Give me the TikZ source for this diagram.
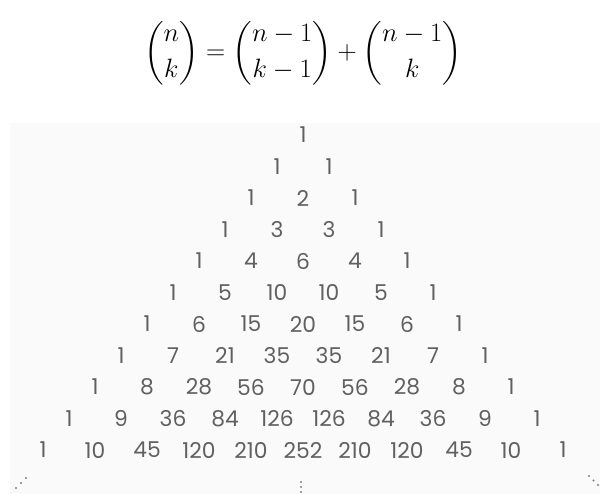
\documentclass[tikz,border=0pt]{standalone}
\usepackage{amsmath}
\usepackage{fontspec}
\usepackage{graphicx}
\newfontfamily\numfont{Poppins}
\usetikzlibrary{positioning,calc,backgrounds}
\definecolor{numgray}{HTML}{606060}
\definecolor{panelgray}{HTML}{FAFAFA}

\begin{document}
\begin{tikzpicture}[
    x=0.025cm, y=-0.025cm,
    entry/.style={font=\numfont\fontsize{15.5}{18}\selectfont, text=numgray, inner sep=0pt},
    formula/.style={font=\fontsize{20}{24}\selectfont, inner sep=0pt},
    dot/.style={fill=numgray!80, draw=none},
]
\useasboundingbox (0,0) rectangle (600,494);

% Panel
\fill[panelgray] (10,123) rectangle (600,494);

% Recurrence
\node[formula] (rule) at (303,53) {\scalebox{0.91}{$\displaystyle \binom{n}{k} = \binom{n-1}{k-1} + \binom{n-1}{k}$}};

% Rows
\foreach \row [count=\n from 0] in {{1},{1,1},{1,2,1},{1,3,3,1},{1,4,6,4,1},{1,5,10,10,5,1},
    {1,6,15,20,15,6,1},{1,7,21,35,35,21,7,1},{1,8,28,56,70,56,28,8,1},
    {1,9,36,84,126,126,84,36,9,1},{1,10,45,120,210,252,210,120,45,10,1}} {
  \foreach \v [count=\k from 0] in \row {
    \node[entry] (p-\n-\k) at ({303+(2*\k-\n)*26}, {135+\n*31.5}) {\v};
  }
}

% Continuation dots
\foreach \i in {0,1,2} {
  \fill[dot] ({16+5*\i}, {488-5*\i}) circle (1.1);
  \fill[dot] (301, {482+5*\i}) circle (1.1);
  \fill[dot] ({589+4.5*\i}, {476+4.5*\i}) circle (1.1);
}

\end{tikzpicture}
\end{document}
